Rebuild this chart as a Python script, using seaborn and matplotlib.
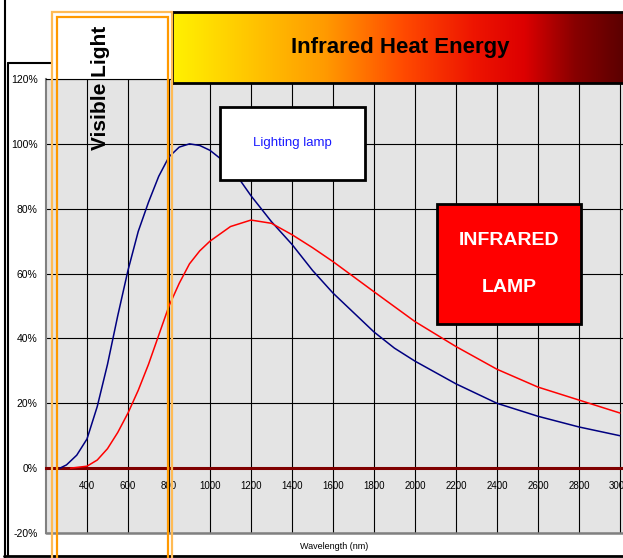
import numpy as np
import pandas as pd
import matplotlib
matplotlib.use("Agg")
import matplotlib.pyplot as plt
import seaborn as sns
from matplotlib.patches import Rectangle
from matplotlib.lines import Line2D
from matplotlib.colors import LinearSegmentedColormap

# veriler
lamba_dalga = [268, 300, 350, 400, 450, 500, 550, 600, 650, 700, 750, 800, 850, 900, 950,
               1000, 1100, 1200, 1300, 1400, 1500, 1600, 1700, 1800, 1900, 2000,
               2200, 2400, 2600, 2800, 3000]
lamba_deger = [0, 1, 4, 9, 19, 32, 47, 61, 73, 82, 90, 96, 99, 100, 99.5,
               98, 93, 84, 76, 69, 61, 54, 48, 42, 37, 33,
               26, 20, 16, 12.7, 10]

kizil_dalga = [320, 400, 450, 500, 550, 600, 650, 700, 750, 800, 850, 900, 950, 1000, 1100,
               1200, 1300, 1400, 1500, 1600, 1800, 2000, 2200, 2400, 2600, 2800, 3000]
kizil_deger = [0, 0.6, 2.5, 6, 11, 17, 24, 32, 41, 50, 57, 63, 67, 70, 74.5,
               76.5, 75.5, 72, 68, 63.7, 54.4, 45.2, 37.5, 30.5, 25, 21, 17]

x_tikler = list(range(400, 3001, 200))
y_tikler = list(range(-20, 121, 20))

veri = pd.concat([
    pd.DataFrame({"dalga": lamba_dalga, "deger": lamba_deger, "seri": "Lighting lamp"}),
    pd.DataFrame({"dalga": kizil_dalga, "deger": kizil_deger, "seri": "Infrared lamp"}),
])

sns.set_theme(style="white")
plt.rcParams["font.family"] = ["Liberation Sans", "DejaVu Sans"]
plt.rcParams["text.color"] = "black"
plt.rcParams["axes.labelcolor"] = "black"
plt.rcParams["xtick.color"] = "black"
plt.rcParams["ytick.color"] = "black"

W, H = 623, 558
fig = plt.figure(figsize=(W / 100, H / 100), dpi=100)


def fx(x):
    return x / W


def fy(y):
    return 1 - y / H


# ana grafik
ax = fig.add_axes([fx(46), fy(533), 1 - fx(46), (533 - 79) / H])
ax.set_facecolor("#e4e4e4")
sns.lineplot(data=veri, x="dalga", y="deger", hue="seri",
             palette={"Lighting lamp": "#000080", "Infrared lamp": "#ff0000"},
             linewidth=1.1, legend=False, ax=ax, zorder=3)

# sifir cizgisi (alt eksen 0'da)
ax.spines["bottom"].set_position(("data", 0))
ax.spines["bottom"].set_color("#800000")
ax.spines["bottom"].set_linewidth(2.2)
ax.spines["bottom"].set_zorder(2.5)
ax.spines["left"].set_color("#808080")
ax.spines["left"].set_linewidth(1.5)
ax.spines["top"].set_color("black")
ax.spines["top"].set_linewidth(0.8)
ax.spines["right"].set_visible(False)

ax.set_xlim(200, 3015)
ax.set_ylim(-20, 120)
ax.set_xticks(x_tikler)
ax.set_xticklabels([str(v) for v in x_tikler])
ax.set_yticks(y_tikler)
ax.set_yticklabels([f"{v}%" for v in y_tikler])
ax.tick_params(axis="x", length=0, pad=9, labelsize=7, labelcolor="black")
ax.tick_params(axis="y", length=0, pad=6, labelsize=7.5, labelcolor="black")
ax.grid(True, color="black", linewidth=0.8)
ax.set_axisbelow(True)
ax.axhline(-20, color="#808080", linewidth=1.8, clip_on=False, zorder=4)

ax.set_xlabel("Wavelength (nm)", fontsize=6.5, color="black")
ax.xaxis.set_label_coords(0.5, -0.02)
ax.set_ylabel("")

# baslik kutusu (gradyan)
bas = fig.add_axes([fx(172), fy(83), 1.02 - fx(172), (83 - 12) / H], zorder=5)
renkler = LinearSegmentedColormap.from_list("isi", [
    (0.0, "#fff200"), (0.33, "#ff9a00"), (0.5, "#ff4a00"),
    (0.65, "#ee1500"), (0.76, "#dd0000"), (0.87, "#880000"), (1.0, "#500000")])
bas.imshow(np.linspace(0, 1, 256).reshape(1, -1), aspect="auto", cmap=renkler,
           extent=[0, 1, 0, 1])
bas.set_xticks([])
bas.set_yticks([])
for s in bas.spines.values():
    s.set_color("black")
    s.set_linewidth(2)
fig.text(fx(400), fy(47), "Infrared Heat Energy", fontsize=16, fontweight="bold",
         ha="center", va="center", color="black", zorder=12)

# cerceve
fig.add_artist(Line2D([fx(4.5), fx(4.5)], [fy(0), fy(558)], color="black", lw=1.5, zorder=9))
fig.add_artist(Line2D([fx(8), fx(8)], [fy(63), fy(556)], color="black", lw=1.5, zorder=9))
fig.add_artist(Line2D([fx(4), fx(623)], [fy(555.5), fy(555.5)], color="black", lw=2, zorder=9))
fig.add_artist(Line2D([fx(8), fx(52)], [fy(63), fy(63)], color="black", lw=1.5, zorder=9))

# gorunur isik kutusu
fig.add_artist(Rectangle((fx(52), fy(570)), (172 - 52) / W, (570 - 12) / H,
                         fill=False, edgecolor="#ffbb55", lw=1.6, zorder=11))
fig.add_artist(Rectangle((fx(57.5), fy(570)), (168 - 57.5) / W, (570 - 17) / H,
                         fill=False, edgecolor="#ff9900", lw=1.6, zorder=11))
fig.text(fx(100), fy(88), "Visible Light", rotation=90, fontsize=15, fontweight="bold",
         ha="center", va="center", color="black", zorder=12)

# aydinlatma lambasi kutusu
fig.add_artist(Rectangle((fx(220.5), fy(180)), (365 - 220.5) / W, (180 - 107.5) / H,
                         facecolor="white", edgecolor="black", lw=2, zorder=10))
fig.text(fx(292), fy(143), "Lighting lamp", fontsize=9.5, color="#1a1aff",
         ha="center", va="center", zorder=12)

# kizilotesi lamba kutusu
fig.add_artist(Rectangle((fx(437), fy(324)), (581 - 437) / W, (324 - 204) / H,
                         facecolor="#ff0000", edgecolor="black", lw=2, zorder=10))
fig.text(fx(509), fy(240), "INFRARED", fontsize=14, fontweight="bold", color="white",
         ha="center", va="center", zorder=12)
fig.text(fx(509), fy(287), "LAMP", fontsize=14, fontweight="bold", color="white",
         ha="center", va="center", zorder=12)

fig.savefig("out.png", dpi=100)
